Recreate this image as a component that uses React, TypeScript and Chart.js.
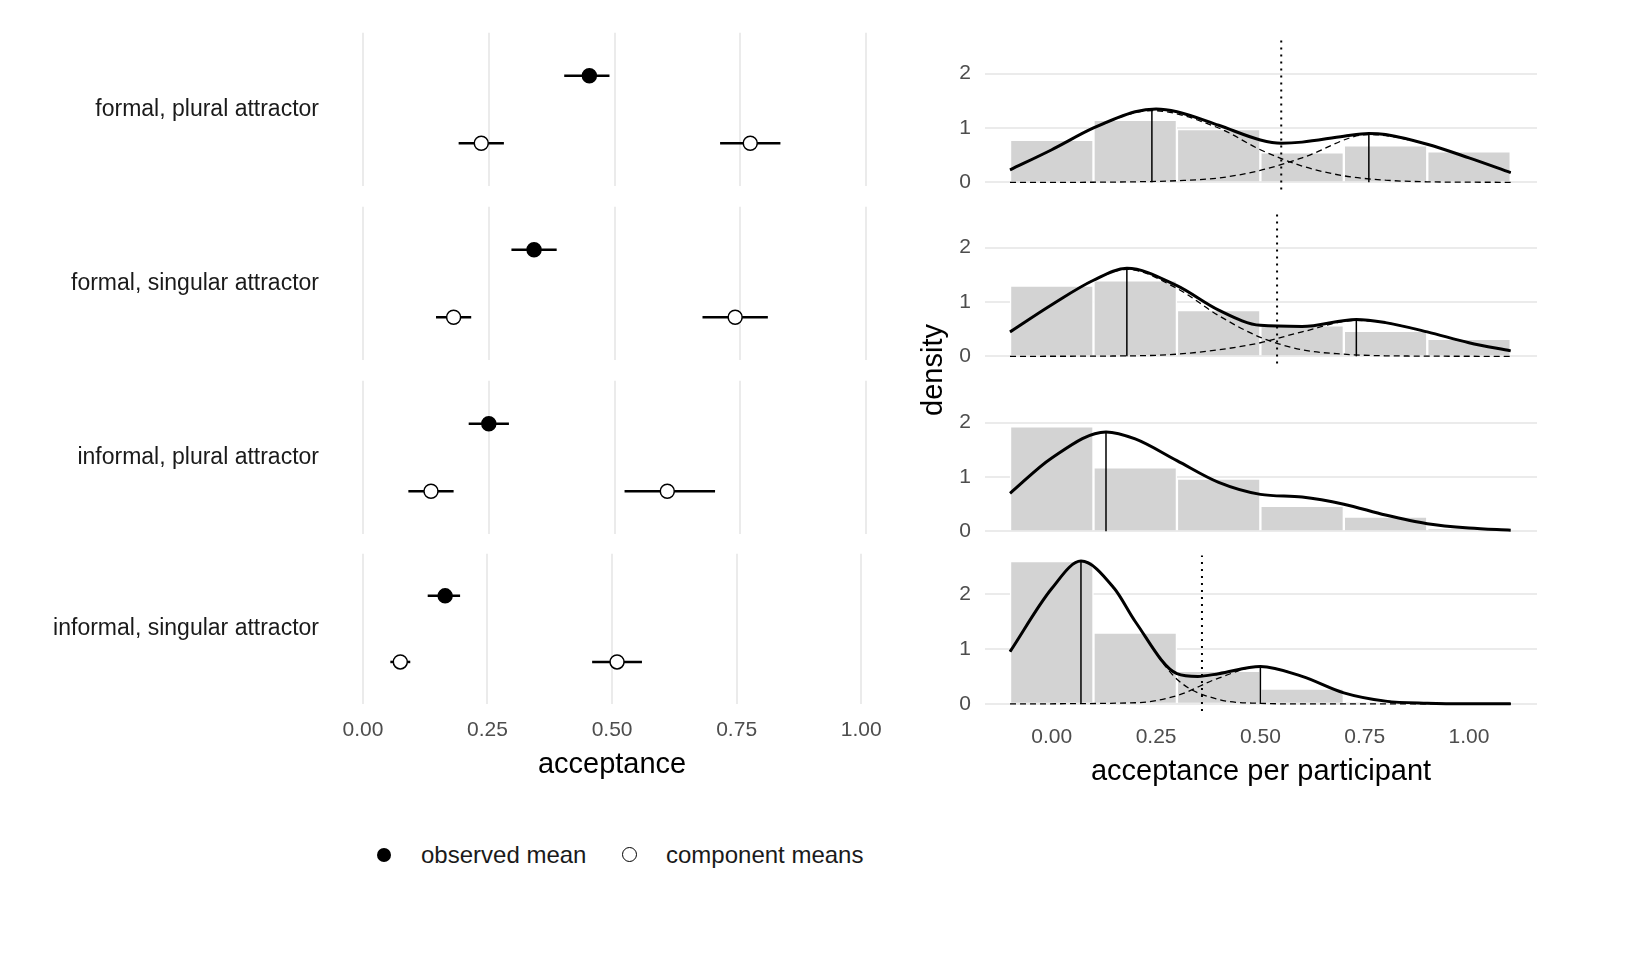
import React, { useEffect, useRef } from "react";
import { Chart, registerables } from "chart.js";
Chart.register(...registerables);

const FONT = "'Liberation Sans', Arial, sans-serif";

// ---- left panel data ----
const facetLabels = ["formal, plural attractor", "formal, singular attractor", "informal, plural attractor", "informal, singular attractor"];
const obsMean = [0.45, 0.34, 0.25, 0.165];
const obsLo = [0.40, 0.295, 0.21, 0.13];
const obsHi = [0.49, 0.385, 0.29, 0.195];
const comp1Mean = [0.235, 0.18, 0.135, 0.075];
const comp1Lo = [0.19, 0.145, 0.09, 0.055];
const comp1Hi = [0.28, 0.215, 0.18, 0.095];
const comp2Mean = [0.77, 0.74, 0.605, 0.51];
const comp2Lo = [0.71, 0.675, 0.52, 0.46];
const comp2Hi = [0.83, 0.805, 0.70, 0.56];
const leftTicks = [0, 0.25, 0.5, 0.75, 1];

// ---- right panel data ----
const binCenters = [0, 0.2, 0.4, 0.6, 0.8, 1.0];
const histHeights = [
  [0.78, 1.15, 0.98, 0.55, 0.68, 0.57],
  [1.3, 1.4, 0.85, 0.57, 0.47, 0.32],
  [1.93, 1.18, 0.97, 0.47, 0.27, 0.05],
  [2.6, 1.3, 0.6, 0.28, 0.02, 0.01],
];
const totalX = [
  [-0.1, 0, 0.1, 0.2, 0.25, 0.3, 0.4, 0.5, 0.55, 0.6, 0.7, 0.76, 0.8, 0.9, 1.0, 1.1],
  [-0.1, 0, 0.1, 0.18, 0.3, 0.4, 0.5, 0.6, 0.73, 0.8, 0.9, 1.0, 1.1],
  [-0.1, 0, 0.13, 0.2, 0.3, 0.4, 0.5, 0.6, 0.7, 0.8, 0.9, 1.0, 1.1],
  [-0.1, 0, 0.07, 0.15, 0.2, 0.3, 0.35, 0.4, 0.5, 0.6, 0.7, 0.8, 0.9, 1.0, 1.1],
];
const totalY = [
  [0.23, 0.6, 1.0, 1.3, 1.35, 1.3, 1.05, 0.78, 0.72, 0.74, 0.85, 0.9, 0.88, 0.7, 0.45, 0.18],
  [0.45, 0.95, 1.4, 1.62, 1.3, 0.85, 0.57, 0.55, 0.68, 0.62, 0.45, 0.25, 0.1],
  [0.7, 1.35, 1.83, 1.7, 1.3, 0.9, 0.68, 0.63, 0.5, 0.3, 0.14, 0.06, 0.02],
  [0.95, 2.1, 2.6, 2.1, 1.5, 0.55, 0.5, 0.55, 0.68, 0.5, 0.2, 0.05, 0.01, 0, 0],
];
const dashAX = [
  [-0.1, 0, 0.1, 0.24, 0.4, 0.5, 0.6, 0.7, 0.8, 0.9, 1.1],
  [-0.1, 0, 0.1, 0.18, 0.3, 0.4, 0.5, 0.6, 0.7, 0.8, 1.1],
  [],
  [-0.1, 0, 0.07, 0.15, 0.2, 0.3, 0.4, 0.5, 0.6, 1.1],
];
const dashAY = [
  [0.23, 0.6, 1.0, 1.32, 1.0, 0.6, 0.3, 0.12, 0.04, 0.01, 0],
  [0.45, 0.95, 1.4, 1.6, 1.25, 0.75, 0.35, 0.12, 0.04, 0.01, 0],
  [],
  [0.95, 2.1, 2.6, 2.1, 1.5, 0.45, 0.08, 0.01, 0, 0],
];
const dashBX = [
  [-0.1, 0, 0.2, 0.3, 0.4, 0.5, 0.6, 0.76, 0.9, 1.0, 1.1],
  [-0.1, 0.2, 0.3, 0.4, 0.5, 0.6, 0.73, 0.8, 0.9, 1.0, 1.1],
  [],
  [-0.1, 0.2, 0.3, 0.4, 0.5, 0.6, 0.7, 0.8, 0.9, 1.1],
];
const dashBY = [
  [0, 0, 0.01, 0.03, 0.08, 0.22, 0.45, 0.88, 0.7, 0.45, 0.18],
  [0, 0.01, 0.04, 0.12, 0.25, 0.45, 0.66, 0.62, 0.45, 0.25, 0.1],
  [],
  [0, 0.02, 0.15, 0.47, 0.68, 0.5, 0.2, 0.05, 0.01, 0],
];
const meanLineX = [[0.24, 0.76], [0.18, 0.73], [0.13], [0.07, 0.5]];
const meanLineH = [[1.35, 0.9], [1.62, 0.68], [1.83], [2.6, 0.68]];
const dottedX: (number | null)[] = [0.55, 0.54, null, 0.36];
const rightTicks = [0, 0.25, 0.5, 0.75, 1];
const densityTicks = [0, 1, 2];

const tickFont = { family: FONT, size: 21 };
const tickColor = "#4d4d4d";
const gridColor = "#ebebeb";

function ChartBox({ config, style }: { config: any; style: React.CSSProperties }) {
  const ref = useRef<HTMLCanvasElement>(null);
  useEffect(() => {
    const c = new Chart(ref.current!, config);
    return () => c.destroy();
  }, []);
  return (
    <div style={{ position: "absolute", ...style }}>
      <canvas ref={ref} />
    </div>
  );
}

function xAxisCommon(bottom: boolean, title: string, ticks: number[], min: number, max: number, grid: boolean) {
  return {
    type: "linear",
    min,
    max,
    offset: false,
    display: true,
    afterFit: (s: any) => { s.height = bottom ? 80 : 0; },
    afterBuildTicks: (s: any) => { s.ticks = ticks.map((v) => ({ value: v })); },
    border: { display: false },
    grid: { display: grid, color: gridColor, lineWidth: 2, drawTicks: false, offset: false },
    ticks: { display: bottom, font: tickFont, color: tickColor, padding: 14, callback: (v: any) => Number(v).toFixed(2), maxRotation: 0 },
    title: { display: bottom, text: title, font: { family: FONT, size: 29 }, color: "#000", padding: { top: 2, bottom: 2 } },
  };
}

const errorBarPlugin = {
  id: "errbars",
  beforeDatasetsDraw(chart: any, _a: any, opts: any) {
    const { ctx, scales } = chart;
    ctx.save();
    ctx.strokeStyle = "#000";
    ctx.lineWidth = 2.5;
    for (const b of opts.bars) {
      const y = scales.y.getPixelForValue(b.y);
      ctx.beginPath();
      ctx.moveTo(scales.x.getPixelForValue(b.lo), y);
      ctx.lineTo(scales.x.getPixelForValue(b.hi), y);
      ctx.stroke();
    }
    ctx.restore();
  },
};

function leftConfig(i: number, bottom: boolean) {
  return {
    type: "scatter",
    data: {
      datasets: [
        { data: [{ x: obsMean[i], y: 0.72 }], pointRadius: 7, pointBackgroundColor: "#000", pointBorderColor: "#000", pointBorderWidth: 1.5 },
        { data: [{ x: comp1Mean[i], y: 0.28 }, { x: comp2Mean[i], y: 0.28 }], pointRadius: 7, pointBackgroundColor: "#fff", pointBorderColor: "#000", pointBorderWidth: 1.5 },
      ],
    },
    plugins: [errorBarPlugin],
    options: {
      animation: false, responsive: true, maintainAspectRatio: false,
      layout: { padding: { right: 10, top: 0, bottom: 0 } },
      plugins: {
        legend: { display: false }, tooltip: { enabled: false },
        errbars: { bars: [
          { y: 0.72, lo: obsLo[i], hi: obsHi[i] },
          { y: 0.28, lo: comp1Lo[i], hi: comp1Hi[i] },
          { y: 0.28, lo: comp2Lo[i], hi: comp2Hi[i] },
        ] },
      },
      scales: {
        x: xAxisCommon(bottom, "acceptance", leftTicks, -0.04, 1.04, true),
        y: {
          type: "linear", min: 0, max: 1,
          afterFit: (s: any) => { s.width = 343; },
          afterBuildTicks: (s: any) => { s.ticks = [{ value: 0.5 }]; },
          border: { display: false },
          grid: { display: false },
          ticks: { font: { family: FONT, size: 23 }, color: "#1a1a1a", padding: 16, callback: () => facetLabels[i] },
        },
      },
    },
  };
}

function rightConfig(i: number, bottom: boolean) {
  const ds: any[] = [];
  ds.push({
    type: "bar",
    data: binCenters.map((x, k) => ({ x, y: histHeights[i][k] })),
    backgroundColor: "#d3d3d3", borderColor: "#fff", borderWidth: 1.5,
    barPercentage: 1, categoryPercentage: 1, order: 5,
  });
  const line = (xs: number[], ys: number[], extra: any) => ({
    type: "line", data: xs.map((x, k) => ({ x, y: ys[k] })), pointRadius: 0,
    borderColor: "#000", fill: false, clip: false, ...extra,
  });
  if (dashAX[i].length) {
    ds.push(line(dashAX[i], dashAY[i], { borderWidth: 1.3, borderDash: [6, 4], cubicInterpolationMode: "monotone", order: 3 }));
    ds.push(line(dashBX[i], dashBY[i], { borderWidth: 1.3, borderDash: [6, 4], cubicInterpolationMode: "monotone", order: 3 }));
  }
  meanLineX[i].forEach((m, k) => ds.push(line([m, m], [0, meanLineH[i][k]], { borderWidth: 1.5, order: 2 })));
  const d = dottedX[i];
  if (d !== null) ds.push(line([d, d], [-0.13, 2.7], { borderWidth: 2, borderDash: [2, 5], order: 2 }));
  ds.push(line(totalX[i], totalY[i], { borderWidth: 3, cubicInterpolationMode: "monotone", order: 1 }));
  return {
    type: "bar",
    data: { datasets: ds },
    options: {
      animation: false, responsive: true, maintainAspectRatio: false,
      layout: { padding: { right: 8, top: 0, bottom: bottom ? 0 : 8 } },
      plugins: { legend: { display: false }, tooltip: { enabled: false } },
      scales: {
        x: xAxisCommon(bottom, "acceptance per participant", rightTicks, -0.16, 1.163, false),
        y: {
          type: "linear", min: -0.13, max: 2.7,
          afterFit: (s: any) => { s.width = 45; },
          afterBuildTicks: (s: any) => { s.ticks = densityTicks.map((v) => ({ value: v })); },
          border: { display: false },
          grid: { color: gridColor, lineWidth: 2, drawTicks: false },
          ticks: { font: tickFont, color: tickColor, padding: 14 },
        },
      },
    },
  };
}

export default function App() {
  const leftTops = [32, 206, 380, 554];
  const rightZeros = [183, 357, 532, 706];
  return (
    <div style={{ position: "relative", width: 1616, height: 944, fontFamily: FONT }}>
      {leftTops.map((t, i) => (
        <ChartBox key={"l" + i} config={leftConfig(i, i === 3)}
          style={i === 3
            ? { left: -8, top: t - 30 - 8, width: 896, height: 260 }
            : { left: -8, top: t - 29 - 8, width: 896, height: 213 }} />
      ))}
      {rightZeros.map((z, i) => (
        <ChartBox key={"r" + i} config={rightConfig(i, i === 3)}
          style={i === 3
            ? { left: 932, top: z - 150 - 27 - 8, width: 605, height: 262 }
            : { left: 932, top: z - 150 - 24 - 8, width: 605, height: 207 }} />
      ))}
      <div style={{ position: "absolute", left: 932 - 8 - 60, top: 370 - 8 - 17, width: 120, textAlign: "center", fontSize: 29, transform: "rotate(-90deg)", lineHeight: "34px" }}>density</div>
      <div style={{ position: "absolute", left: 377 - 8, top: 848 - 8, width: 14, height: 14, borderRadius: 7, background: "#000" }} />
      <div style={{ position: "absolute", left: 421 - 8, top: 840 - 8, fontSize: 24, lineHeight: "30px", color: "#1a1a1a" }}>observed mean</div>
      <div style={{ position: "absolute", left: 622 - 8, top: 847 - 8, width: 13, height: 13, borderRadius: 8, background: "#fff", border: "1.5px solid #000" }} />
      <div style={{ position: "absolute", left: 666 - 8, top: 840 - 8, fontSize: 24, lineHeight: "30px", color: "#1a1a1a" }}>component means</div>
    </div>
  );
}
